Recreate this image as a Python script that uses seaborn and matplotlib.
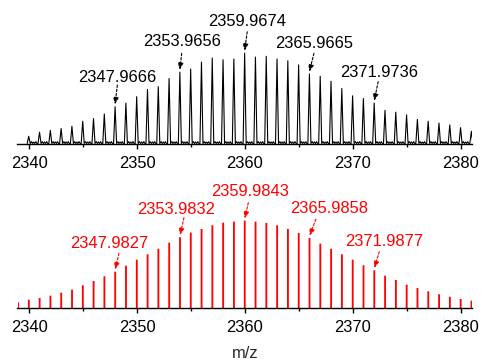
import numpy as np
import pandas as pd
import matplotlib
matplotlib.use("Agg")
import matplotlib.pyplot as plt
from matplotlib.ticker import MultipleLocator
import seaborn as sns

# ---------------- data ----------------
# experimental isotope pattern (top), m/z of peak apex and relative intensity
exp_mz = [2339.97, 2340.97, 2341.97, 2342.97, 2343.97, 2344.97, 2345.97, 2346.97,
          2347.97, 2348.97, 2349.97, 2350.97, 2351.97, 2352.97, 2353.97, 2354.97,
          2355.97, 2356.97, 2357.97, 2358.97, 2359.97, 2360.97, 2361.97, 2362.97,
          2363.97, 2364.97, 2365.97, 2366.97, 2367.97, 2368.97, 2369.97, 2370.97,
          2371.97, 2372.97, 2373.97, 2374.97, 2375.97, 2376.97, 2377.97, 2378.97,
          2379.97, 2380.97]
exp_int = [8.5, 13, 15, 17, 19.5, 25, 28, 33, 41, 45, 52, 60, 63, 72, 79, 82.5,
           90, 94.5, 92.6, 93.4, 100, 95.6, 96.4, 93.4, 91.5, 87, 77, 74.4, 69, 61,
           53, 50, 45, 37, 35, 32, 27, 25, 23, 21, 18, 14]

# simulated isotope pattern (bottom)
sim_mz = [2338.98, 2339.98, 2340.98, 2341.98, 2342.98, 2343.98, 2344.98, 2345.98,
          2346.98, 2347.98, 2348.98, 2349.98, 2350.98, 2351.98, 2352.98, 2353.98,
          2354.98, 2355.98, 2356.98, 2357.98, 2358.98, 2359.98, 2360.98, 2361.98,
          2362.98, 2363.98, 2364.98, 2365.98, 2366.98, 2367.98, 2368.98, 2369.98,
          2370.98, 2371.98, 2372.98, 2373.98, 2374.98, 2375.98, 2376.98, 2377.98,
          2378.98, 2379.98, 2380.98]
sim_int = [6.5, 9.5, 11.5, 14.1, 17.5, 21, 26, 30.9, 36.3, 41.6, 48.5, 55.3, 61.5,
           67.9, 74.8, 81, 86.3, 90.5, 94.7, 97.7, 98.9, 100, 98.9, 97.4, 94.7, 90.5,
           85.9, 80.2, 73.7, 67.9, 61.5, 55.3, 48.9, 43.2, 37, 32.1, 26.7, 22.9, 19.1,
           15.7, 12.9, 10.3, 8.4]

# labelled peaks
exp_labels = ["2347.9666", "2353.9656", "2359.9674", "2365.9665", "2371.9736"]
exp_label_mz = [2347.9666, 2353.9656, 2359.9674, 2365.9665, 2371.9736]
exp_label_int = [41, 79, 100, 77, 45]
sim_labels = ["2347.9827", "2353.9832", "2359.9843", "2365.9858", "2371.9877"]
sim_label_mz = [2347.9827, 2353.9832, 2359.9843, 2365.9858, 2371.9877]
sim_label_int = [41.6, 81, 100, 80.2, 43.2]

tick_values = [2340, 2350, 2360, 2370, 2380]
xlabel = "m/z"

# ---------------- profile shape for the measured spectrum ----------------
# (peak drawn as a narrow spike with a small ripple of baseline noise after it)
shape_dx = [-0.14, 0.0, 0.14, 0.26, 0.36, 0.46, 0.56, 0.66, 0.76]
shape_noise = [0.6, None, 0.6, 2.6, 0.6, 2.2, 0.6, 2.6, 0.6]
px, py = [], []
for c, h in zip(exp_mz, exp_int):
    for dx, n in zip(shape_dx, shape_noise):
        px.append(c + dx)
        py.append(h if n is None else n)
profile = pd.DataFrame({"mz": px, "intensity": py})
sticks = pd.DataFrame({"mz": sim_mz, "intensity": sim_int})

# ---------------- figure ----------------
sns.set_style("ticks")
plt.rcParams["font.family"] = ["Liberation Sans", "DejaVu Sans"]
plt.rcParams["font.size"] = 11.9

W, H = 483, 360
fig = plt.figure(figsize=(W / 100, H / 100), dpi=100)
fig.patch.set_facecolor("white")

XMIN, XMAX = 2338.93, 2381.03
left_px, right_px = 17.5, 472
ax1 = fig.add_axes([left_px / W, (H - 144) / H, (right_px - left_px) / W, 134 / H])
ax2 = fig.add_axes([left_px / W, (H - 308) / H, (right_px - left_px) / W, 138 / H])

sns.lineplot(data=profile, x="mz", y="intensity", ax=ax1, color="black",
             linewidth=0.8, estimator=None, sort=False)
ax1.set_ylim(0, 147.3)

sns.barplot(data=sticks, x="mz", y="intensity", ax=ax2, native_scale=True,
            width=0.17, color="#ff0000", linewidth=0, saturation=1)
for p in ax2.patches:
    p.set_snap(False)
    p.set_antialiased(True)
ax2.set_ylim(0, 158)

for ax in (ax1, ax2):
    ax.set_xlim(XMIN, XMAX)
    ax.set_facecolor("white")
    for s in ("left", "right", "top"):
        ax.spines[s].set_visible(False)
    ax.spines["bottom"].set_linewidth(1.0)
    ax.spines["bottom"].set_color("black")
    ax.spines["bottom"].set_zorder(5)
    ax.set_yticks([])
    ax.set_ylabel("")
    ax.set_xticks(tick_values)
    ax.set_xticklabels([str(t) for t in tick_values])
    ax.xaxis.set_minor_locator(MultipleLocator(5))
    ax.tick_params(axis="x", which="major", direction="out", length=3.3, width=1.0,
                   pad=5, color="black", labelcolor="black")
    ax.tick_params(axis="x", which="minor", direction="out", length=1.8, width=1.0,
                   color="black")
    ax.set_xlabel("")

ax2.set_xlabel(xlabel, labelpad=8.5)


def annotate(ax, labels, mzs, ints, color, text_pos, starts):
    for lab, m, h, (tx, ty), (sx, sy) in zip(labels, mzs, ints, text_pos, starts):
        ax.text(tx, ty, lab, ha="center", va="center", color=color)
        ax.annotate("", xy=(m, h + 2.5), xytext=(sx, sy),
                    arrowprops=dict(arrowstyle="-|>,head_length=0.4,head_width=0.16",
                                    linestyle=(0, (2.2, 1.6)), lw=0.8, color=color,
                                    shrinkA=0, shrinkB=0, mutation_scale=10))


annotate(ax1, exp_labels, exp_label_mz, exp_label_int, "black",
         [(2348.19, 73.3), (2354.17, 112.4), (2360.23, 134.4), (2366.36, 110.7), (2372.39, 78.4)],
         [(2348.18, 64.8), (2354.14, 99.7), (2360.21, 123.4), (2366.39, 99.7), (2372.34, 68.5)])
annotate(ax2, sim_labels, sim_label_mz, sim_label_int, "#ff0000",
         [(2347.43, 74.1), (2353.59, 112.3), (2360.49, 133.2), (2367.75, 114.2), (2372.93, 76.7)],
         [(2348.33, 62.7), (2354.35, 103.4), (2360.31, 120.6), (2366.57, 101.6), (2372.44, 64.5)])

fig.savefig("out.png", dpi=100, facecolor="white")
